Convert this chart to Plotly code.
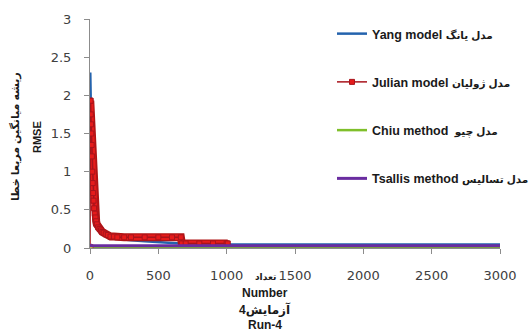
import plotly.graph_objects as go

# RMSE per run number, run 4
yang_x = [2, 4, 6, 9, 12, 16, 20, 25, 30, 40, 50, 60, 80, 100, 130, 160, 200, 300, 400, 500, 660, 700, 1000, 1500, 2000, 2500, 3000]
yang_y = [2.3, 1.95, 1.7, 1.45, 1.25, 1.02, 0.85, 0.66, 0.5, 0.38, 0.3, 0.25, 0.22, 0.2, 0.18, 0.15, 0.12, 0.1, 0.09, 0.08, 0.06, 0.05, 0.045, 0.045, 0.045, 0.045, 0.045]

julian_x = [0, 2, 4, 6, 8, 10, 12, 14, 17, 20, 23, 26, 30, 35, 40, 45, 50, 60, 70, 80, 90, 100, 115, 130, 150, 175, 200, 250, 300, 400, 500, 600, 665, 672, 700, 800, 900, 1000, 1008]
julian_y = [0, 1.93, 1.93, 1.75, 1.62, 1.5, 1.35, 1.2, 1.0, 0.85, 0.72, 0.62, 0.52, 0.45, 0.4, 0.35, 0.31, 0.27, 0.25, 0.23, 0.21, 0.2, 0.18, 0.17, 0.15, 0.15, 0.14, 0.14, 0.14, 0.14, 0.14, 0.14, 0.14, 0.06, 0.06, 0.06, 0.06, 0.06, 0.06]

chiu_x = [0, 3000]
chiu_y = [0.005, 0.005]

tsallis_x = [0, 5, 3000]
tsallis_y = [0.05, 0.028, 0.028]

x_ticks = [0, 500, 1000, 1500, 2000, 2500, 3000]
y_ticks = [0, 0.5, 1, 1.5, 2, 2.5, 3]

names_en = ["Yang model", "Julian model", "Chiu method", "Tsallis method"]
names_fa = ["مدل یانگ", "مدل ژولیان", " مدل چیو", "مدل تسالیس"]
names = ["<b>%s <span style='font-size:10.5px'>%s</span></b>" % (e, f) for e, f in zip(names_en, names_fa)]

fig = go.Figure()

fig.add_trace(go.Scatter(x=yang_x, y=yang_y, mode="lines", name=names[0], legendgroup="a",
                         line=dict(color="#2463ad", width=2.5)))

# thick marker band of the Julian series (dense markers)
fig.add_trace(go.Scatter(x=julian_x[1:], y=julian_y[1:], mode="lines", showlegend=False, hoverinfo="skip",
                         line=dict(color="#b01515", width=8)))
fig.add_trace(go.Scatter(x=julian_x[1:], y=julian_y[1:], mode="lines", showlegend=False, hoverinfo="skip",
                         line=dict(color="#e51b1b", width=5.5)))
fig.add_trace(go.Scatter(x=julian_x, y=julian_y, mode="lines+markers", name=names[1], legendgroup="b",
                         line=dict(color="#a8141c", width=1.5),
                         marker=dict(symbol="square", size=5, color="#e51b1b",
                                     line=dict(color="#a8141c", width=1))))

fig.add_trace(go.Scatter(x=chiu_x, y=chiu_y, mode="lines", name=names[2], legendgroup="c",
                         line=dict(color="#7fbf2a", width=2.5)))
# start marker of the Chiu series
fig.add_trace(go.Scatter(x=chiu_x[:1], y=chiu_y[:1], mode="markers", showlegend=False, hoverinfo="skip",
                         marker=dict(size=6, color="#d8e030", symbol="square",
                                     line=dict(color="#c0392b", width=1))))

fig.add_trace(go.Scatter(x=tsallis_x, y=tsallis_y, mode="lines", name=names[3], legendgroup="d",
                         line=dict(color="#6a2da0", width=3)))

fig.update_layout(
    width=531, height=332,
    margin=dict(l=90, r=31, t=19, b=84, autoexpand=False),
    paper_bgcolor="white", plot_bgcolor="white",
    font=dict(family="DejaVu Sans", color="#333333"),
    showlegend=True,
    legend=dict(x=(332 - 90) / 410, y=(248 - 19) / 229, xanchor="left", yanchor="top",
                bgcolor="rgba(0,0,0,0)", tracegroupgap=29, itemwidth=30,
                font=dict(family="Liberation Sans, DejaVu Sans", size=12.5, color="#1a1a1a")),
    xaxis=dict(range=[0, 3000], tickvals=x_ticks, ticktext=[str(v) for v in x_ticks],
               showgrid=False, zeroline=False, showline=True, linecolor="#8c8c8c", linewidth=1,
               ticks="outside", ticklen=5, tickcolor="#8c8c8c", ticklabelstandoff=10,
               tickfont=dict(size=13, color="#404040")),
    yaxis=dict(range=[0, 3], tickvals=y_ticks, ticktext=[str(v) for v in y_ticks],
               showgrid=False, zeroline=False, showline=True, linecolor="#8c8c8c", linewidth=1,
               ticks="outside", ticklen=5, tickcolor="#8c8c8c", ticklabelstandoff=10,
               tickfont=dict(size=13, color="#404040")),
)

# axis titles
x_title = ["تعداد", "Number", "آزمایش4", "Run-4"]
x_title_y = [277, 293, 309, 325]
for txt, py in zip(x_title, x_title_y):
    fig.add_annotation(text="<b>%s</b>" % txt, xref="paper", yref="paper",
                       x=(265 - 90) / 410, y=(248 - py) / 229, showarrow=False,
                       font=dict(family="Liberation Sans, DejaVu Sans", size=12 if txt != "تعداد" else 9,
                                 color="#1a1a1a"),
                       xanchor="center", yanchor="middle")

y_title = ["ریشه میانگین مربعا خطا", "RMSE"]
y_title_x = [15, 37]
for txt, px in zip(y_title, y_title_x):
    fig.add_annotation(text="<b>%s</b>" % txt, xref="paper", yref="paper",
                       x=(px - 90) / 410, y=(248 - 137) / 229, showarrow=False, textangle=-90,
                       font=dict(family="Liberation Sans, DejaVu Sans", size=11, color="#1a1a1a"),
                       xanchor="center", yanchor="middle")

fig.write_html("out.html")
